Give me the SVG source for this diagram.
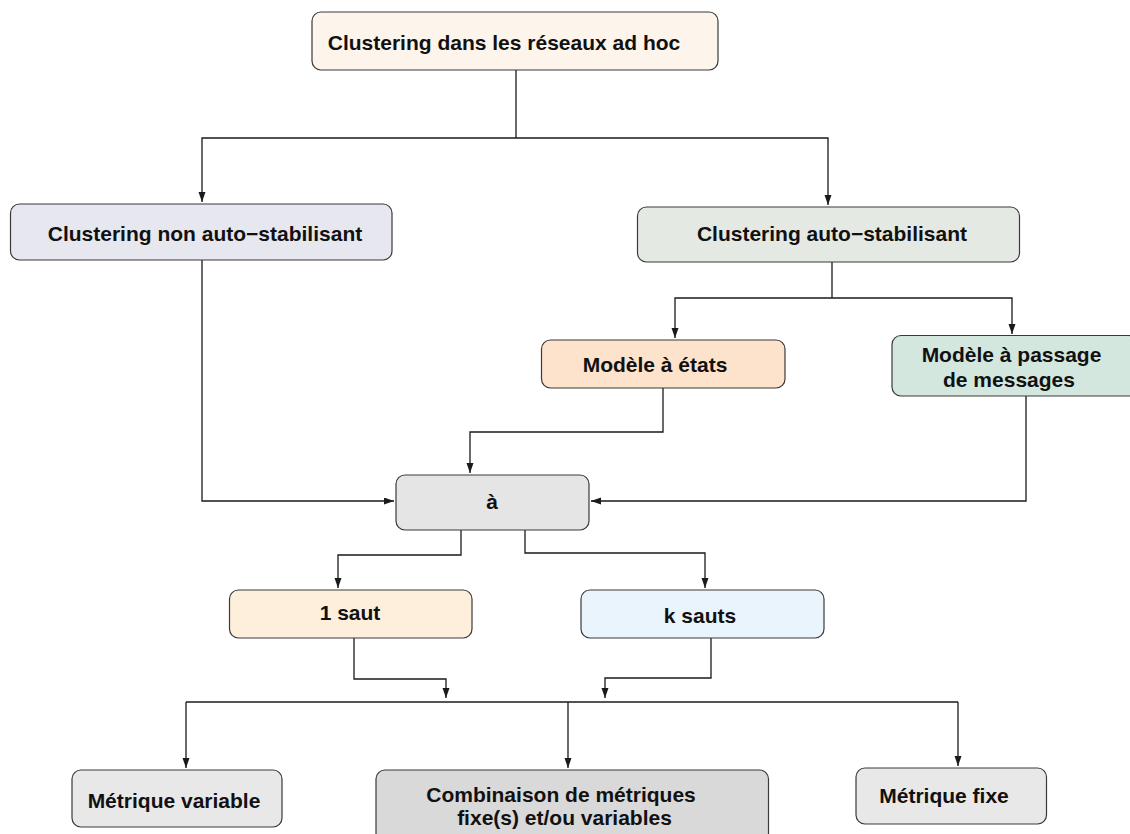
<svg xmlns="http://www.w3.org/2000/svg" width="1130" height="834" viewBox="0 0 1130 834">
  <style>
    .box { stroke: #3a3a3a; stroke-width: 1.2; }
    .lbl { font-family: "Liberation Sans", Arial, sans-serif; font-weight: bold; font-size: 21px; fill: #111; text-anchor: middle; }
    .conn { fill: none; stroke: #1a1a1a; stroke-width: 1.3; }
  </style>
  <defs>
    <marker id="arr" markerUnits="userSpaceOnUse" markerWidth="10" markerHeight="8" refX="10" refY="3.5" orient="auto">
      <path d="M0,0 L10,3.5 L0,7 z" fill="#1a1a1a"/>
    </marker>
  </defs>
  <rect width="1130" height="834" fill="#ffffff"/>

  <g id="connectors">
    <path class="conn" d="M516,70 V138"/>
    <path class="conn" d="M516,138 H202 V202" marker-end="url(#arr)"/>
    <path class="conn" d="M516,138 H828 V205" marker-end="url(#arr)"/>
    <path class="conn" d="M202,260 V501 H394" marker-end="url(#arr)"/>
    <path class="conn" d="M832,262 V298"/>
    <path class="conn" d="M832,298 H675 V338" marker-end="url(#arr)"/>
    <path class="conn" d="M832,298 H1012 V334" marker-end="url(#arr)"/>
    <path class="conn" d="M663,388 V432 H470 V473" marker-end="url(#arr)"/>
    <path class="conn" d="M1026,396 V501 H591" marker-end="url(#arr)"/>
    <path class="conn" d="M461,530 V555 H338 V588" marker-end="url(#arr)"/>
    <path class="conn" d="M525,530 V553 H705 V588" marker-end="url(#arr)"/>
    <path class="conn" d="M354,638 V679 H446 V698" marker-end="url(#arr)"/>
    <path class="conn" d="M711,638 V678 H605 V698" marker-end="url(#arr)"/>
    <path class="conn" d="M186,702 H958"/>
    <path class="conn" d="M186,702 V768" marker-end="url(#arr)"/>
    <path class="conn" d="M568,702 V768" marker-end="url(#arr)"/>
    <path class="conn" d="M958,702 V766" marker-end="url(#arr)"/>
  </g>

  <g id="n-root">
    <rect class="box" x="312" y="12" width="406" height="58" rx="9" fill="#fdf5ec"/>
    <text class="lbl" x="504" y="50">Clustering dans les réseaux ad hoc</text>
  </g>
  <g id="n-non-auto">
    <rect class="box" x="10.5" y="204" width="381.5" height="56" rx="9" fill="#e7e7ef"/>
    <text class="lbl" x="205" y="240.5">Clustering non auto−stabilisant</text>
  </g>
  <g id="n-auto">
    <rect class="box" x="637.5" y="207" width="382" height="55" rx="9" fill="#e5e9e4"/>
    <text class="lbl" x="832" y="240.5">Clustering auto−stabilisant</text>
  </g>
  <g id="n-etats">
    <rect class="box" x="541.5" y="340" width="243.5" height="48" rx="9" fill="#fde3cc"/>
    <text class="lbl" x="655" y="371.5">Modèle à états</text>
  </g>
  <g id="n-messages">
    <rect class="box" x="892" y="335.5" width="246" height="60.5" rx="9" fill="#d4e7df"/>
    <text class="lbl" x="1011.5" y="362">Modèle à passage</text>
    <text class="lbl" x="1009" y="387">de messages</text>
  </g>
  <g id="n-a">
    <rect class="box" x="396" y="475" width="193" height="55" rx="9" fill="#e5e5e5"/>
    <text class="lbl" x="492" y="509">à</text>
  </g>
  <g id="n-1saut">
    <rect class="box" x="229.5" y="590" width="242.5" height="48" rx="9" fill="#fdefdc"/>
    <text class="lbl" x="350" y="620">1 saut</text>
  </g>
  <g id="n-ksauts">
    <rect class="box" x="581" y="590" width="243" height="48" rx="9" fill="#eaf4fd"/>
    <text class="lbl" x="700" y="623">k sauts</text>
  </g>
  <g id="n-variable">
    <rect class="box" x="72" y="770" width="210" height="57" rx="9" fill="#e8e8e8"/>
    <text class="lbl" x="174" y="808">Métrique variable</text>
  </g>
  <g id="n-combinaison">
    <rect class="box" x="376" y="770" width="392.5" height="80" rx="9" fill="#d9d9d9"/>
    <text class="lbl" x="561" y="802">Combinaison de métriques</text>
    <text class="lbl" x="564.5" y="825">fixe(s) et/ou variables</text>
  </g>
  <g id="n-fixe">
    <rect class="box" x="856" y="768" width="190.5" height="56" rx="9" fill="#e8e8e8"/>
    <text class="lbl" x="944" y="803">Métrique fixe</text>
  </g>
</svg>
